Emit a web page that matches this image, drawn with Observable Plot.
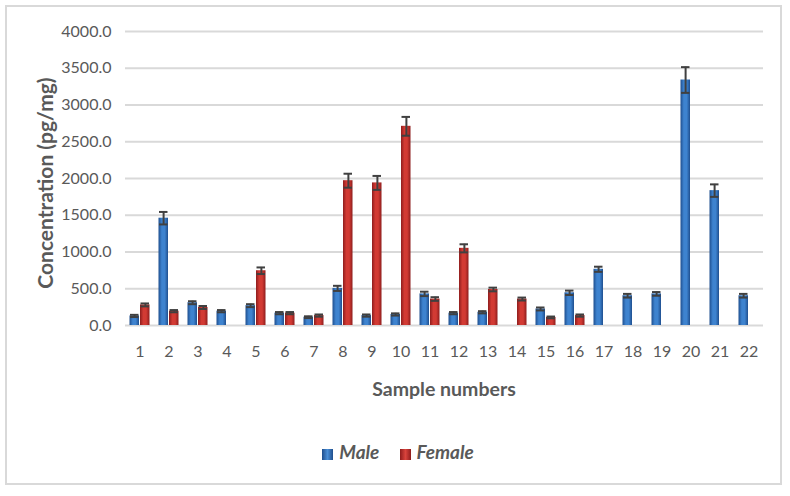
<!DOCTYPE html>
<html>
<head>
<meta charset="utf-8">
<script src="https://cdn.jsdelivr.net/npm/d3@7"></script>
<script src="https://cdn.jsdelivr.net/npm/@observablehq/plot@0.6"></script>
<style>
  html, body { margin: 0; padding: 0; background: #fff; }
  body { width: 790px; height: 496px; position: relative; overflow: hidden; font-family: Lato, "Open Sans", sans-serif; }
  #frame { position: absolute; left: 5px; top: 5px; width: 777px; height: 480px; border: 2px solid #d9d9d9; box-sizing: border-box; }
  #chart { position: absolute; left: 0; top: 0; }
  .ttl { position: absolute; color: #595959; font-weight: bold; white-space: nowrap; }
  #ylab { left: 44px; top: 183px; font-size: 21px; transform: translate(-50%, -50%) rotate(-90deg); }
  #xlab { left: 444px; top: 388px; font-size: 19.5px; transform: translate(-50%, -50%); }
  #legend { position: absolute; left: 0; width: 796px; top: 440px; text-align: center; color: #595959; font-weight: bold; font-style: italic; font-size: 19px; }
  #legend span.sw { display: inline-block; width: 11px; height: 11px; margin-right: 6px; vertical-align: -1px; }
  #legend span.it { margin-right: 16px; }
</style>
</head>
<body>
<div id="frame"></div>
<div id="chart"></div>
<div class="ttl" id="ylab">Concentration (pg/mg)</div>
<div class="ttl" id="xlab">Sample numbers</div>
<div id="legend">
  <span class="sw" style="background:linear-gradient(90deg,#1f4e8c,#4a8ed6,#1f4e8c)"></span><span class="it">Male</span>
  <span class="sw" style="background:linear-gradient(90deg,#8f1c1c,#d9433c,#8f1c1c)"></span><span>Female</span>
</div>
<script>
const samples = [1,2,3,4,5,6,7,8,9,10,11,12,13,14,15,16,17,18,19,20,21,22];
const maleValues = [130,1460,310,195,270,168,113,505,135,150,430,168,180,null,225,445,765,405,430,3340,1835,405];
const maleErrors = [15,85,20,15,20,15,12,35,15,15,30,15,15,null,20,30,35,25,25,175,85,25];
const femaleValues = [280,195,245,null,745,168,135,1970,1940,2710,360,1050,490,360,110,135,null,null,null,null,null,null];
const femaleErrors = [20,15,20,null,45,15,15,95,95,128,25,55,25,20,12,15,null,null,null,null,null,null];
const yTicks = [0,500,1000,1500,2000,2500,3000,3500,4000];

const rows = [];
samples.forEach((s, i) => {
  if (maleValues[i] != null) rows.push({sample: s, sex: "Male", value: maleValues[i], err: maleErrors[i]});
  if (femaleValues[i] != null) rows.push({sample: s, sex: "Female", value: femaleValues[i], err: femaleErrors[i]});
});
const male = rows.filter(d => d.sex === "Male");
const female = rows.filter(d => d.sex === "Female");

const W = 790, H = 400, mL = 125, mR = 27, mT = 31, mB = 75;
const pad = 0.28;
const half = 11;

const grid = "#d9d9d9";
const plot = Plot.plot({
  width: W, height: H,
  marginLeft: mL, marginRight: mR, marginTop: mT, marginBottom: mB,
  style: {fontFamily: "Lato, 'Open Sans', sans-serif", background: "transparent"},
  x: {type: "band", domain: samples, paddingInner: pad, paddingOuter: pad / 2, label: null},
  y: {domain: [0, 4000], label: null},
  marks: [
    Plot.ruleY(yTicks, {stroke: grid, strokeWidth: 2}),
    Plot.axisY({ticks: yTicks, tickFormat: d3.format(".1f"), tickSize: 0, tickPadding: 14, fontSize: 16, fill: "#595959", label: null}),
    Plot.axisX({tickSize: 0, tickPadding: 20, fontSize: 16, fill: "#595959", label: null}),
    Plot.barY(male, {x: "sample", y: "value", fill: "url(#gMale)", insetRight: half, insetLeft: 0.5}),
    Plot.barY(female, {x: "sample", y: "value", fill: "url(#gFemale)", insetLeft: half, insetRight: 0.5}),
    Plot.ruleX(male, {x: "sample", y1: d => d.value - d.err, y2: d => d.value + d.err, dx: -5.4, stroke: "#404040", strokeWidth: 2}),
    Plot.ruleX(female, {x: "sample", y1: d => d.value - d.err, y2: d => d.value + d.err, dx: 5.4, stroke: "#404040", strokeWidth: 2}),
    Plot.tickY(male, {x: "sample", y: d => d.value + d.err, insetLeft: 1, insetRight: half + 0.5, stroke: "#404040", strokeWidth: 2}),
    Plot.tickY(male, {x: "sample", y: d => d.value - d.err, insetLeft: 1, insetRight: half + 0.5, stroke: "#404040", strokeWidth: 2}),
    Plot.tickY(female, {x: "sample", y: d => d.value + d.err, insetLeft: half + 0.5, insetRight: 1, stroke: "#404040", strokeWidth: 2}),
    Plot.tickY(female, {x: "sample", y: d => d.value - d.err, insetLeft: half + 0.5, insetRight: 1, stroke: "#404040", strokeWidth: 2})
  ]
});

const ns = "http://www.w3.org/2000/svg";
const defs = document.createElementNS(ns, "defs");
function grad(id, edge, mid) {
  const g = document.createElementNS(ns, "linearGradient");
  g.setAttribute("id", id);
  g.setAttribute("x1", "0"); g.setAttribute("x2", "1"); g.setAttribute("y1", "0"); g.setAttribute("y2", "0");
  [[0, edge], [0.35, mid], [0.65, mid], [1, edge]].forEach(([o, c]) => {
    const s = document.createElementNS(ns, "stop");
    s.setAttribute("offset", o); s.setAttribute("stop-color", c);
    g.appendChild(s);
  });
  defs.appendChild(g);
}
grad("gMale", "#1f4f8f", "#3e83cf");
grad("gFemale", "#8e1d1d", "#d23a33");
plot.insertBefore(defs, plot.firstChild);
document.getElementById("chart").appendChild(plot);
</script>
</body>
</html>
